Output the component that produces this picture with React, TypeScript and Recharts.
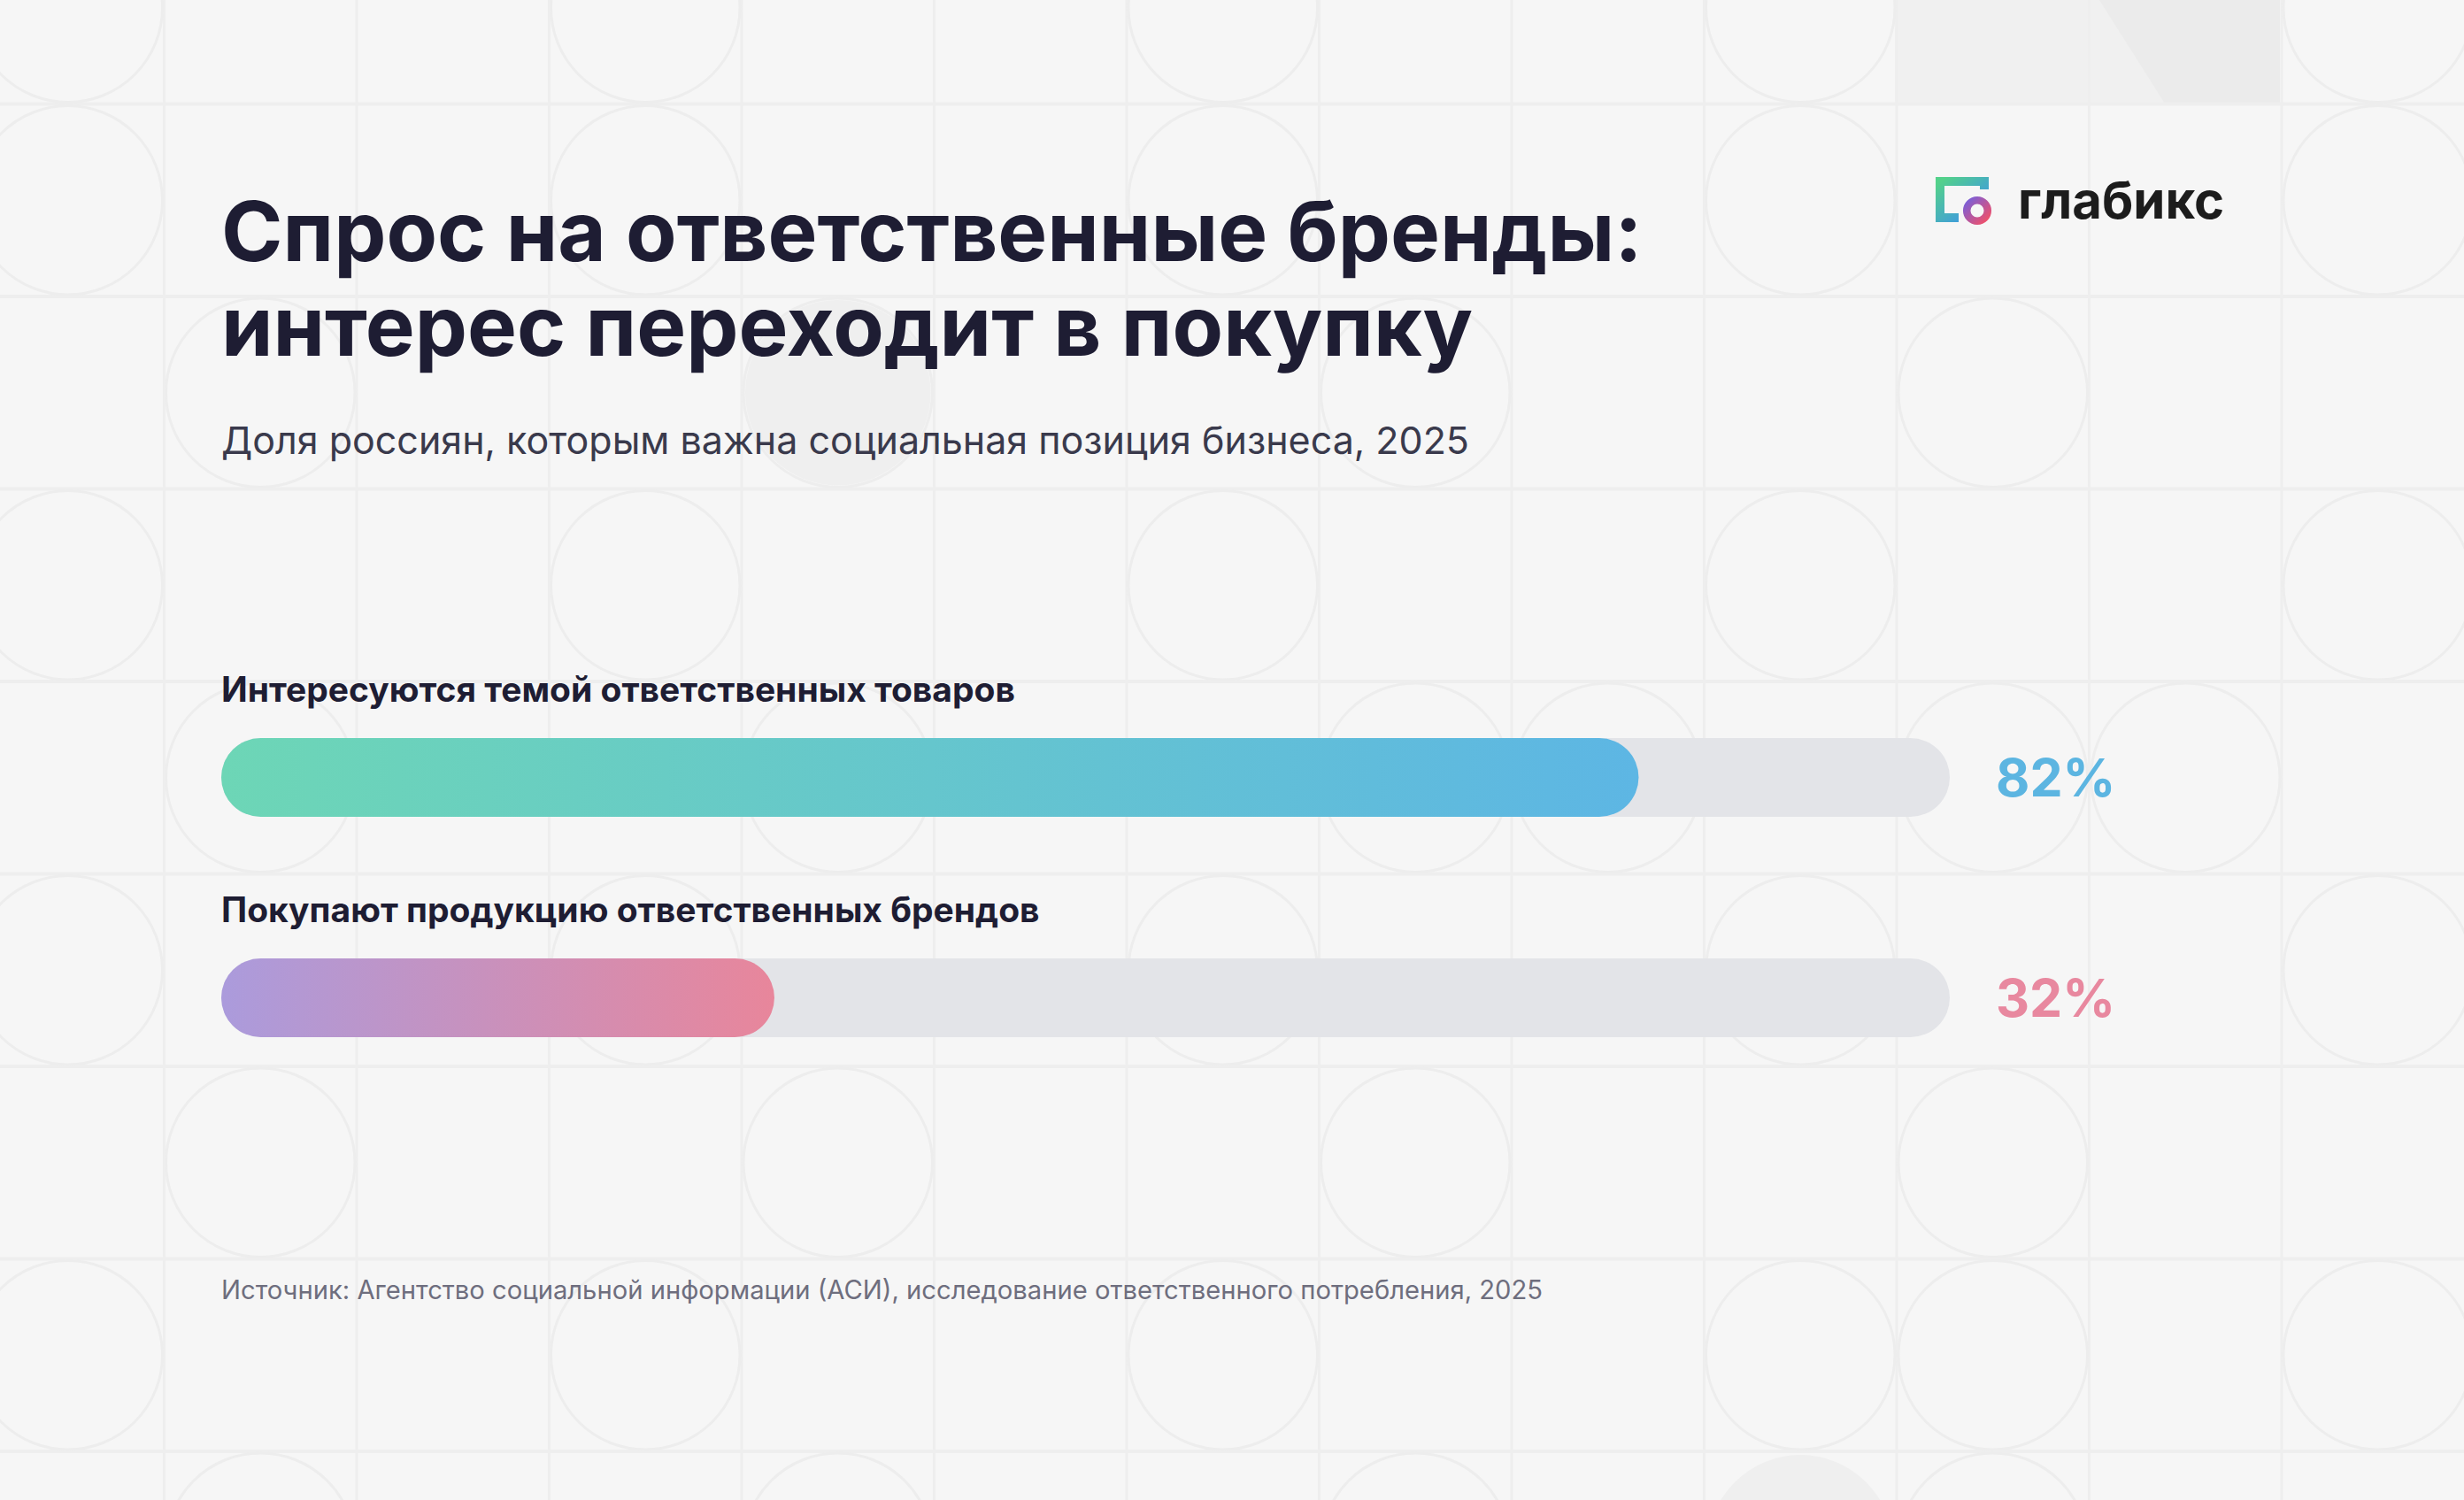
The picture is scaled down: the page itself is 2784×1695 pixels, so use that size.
import React from 'react';
import { BarChart, Bar, XAxis, YAxis, Cell, LabelList } from 'recharts';

// ---- data ----
const categories = [
  'Интересуются темой ответственных товаров',
  'Покупают продукцию ответственных брендов',
];
const shares = [82, 32];

// ---- palette ----
const barGradients = [
  ['#6dd6b6', '#5db6e4'],
  ['#ab9bdc', '#e8869b'],
];
const valueColors = ['#5cb5e1', '#e8889f'];
const TRACK = '#e3e4e8';
const INK = '#1e1d33';

const W = 2784;
const H = 1695;
const CELL = 217.5;
const COL0 = -32;
const ROW0 = -100;

// decorative circles in the background tiling: [col, row]
const bgCircles: [number, number][] = [];
[0, 1, 3, 5, 7].forEach((r) => [0, 3, 6, 9, 12].forEach((c) => bgCircles.push([c, r])));
[2, 4, 6, 8].forEach((r) => [1, 4, 7, 10].forEach((c) => bgCircles.push([c, r])));
bgCircles.push([8, 4], [11, 4], [10, 7]);
const bgDiscs: [number, number][] = [[4, 2], [9, 8]];

const data = categories.map((name, i) => ({ name, share: shares[i] }));

const box = (p: any) => {
  const vb = p.viewBox || {};
  return {
    x: p.x ?? vb.x,
    y: p.y ?? vb.y,
    width: p.width ?? vb.width,
    height: p.height ?? vb.height,
  };
};

const NameLabel = (props: any) => {
  const { x, y } = box(props);
  return (
    <text x={x} y={y - 41} fontSize={39} fontWeight={700} fill={INK} fontFamily="Inter">
      {props.value}
    </text>
  );
};

const ValueLabel = (props: any) => {
  const { x, y, width, height } = box(props);
  const v = Number(props.value);
  const i = shares.indexOf(v);
  const trackEnd = x + (width * 100) / v;
  return (
    <text
      x={trackEnd + 52}
      y={y + height / 2}
      dy="0.36em"
      fontSize={59}
      fontWeight={700}
      fill={valueColors[i]}
      fontFamily="Inter"
    >
      {`${v}%`}
    </text>
  );
};

const Backdrop = () => {
  const vLines = [];
  for (let k = 1; k <= 13; k++) vLines.push(COL0 + k * CELL);
  const hLines = [];
  for (let k = 1; k <= 8; k++) hLines.push(ROW0 + k * CELL);
  return (
    <svg width={W} height={H} style={{ position: 'absolute', left: 0, top: 0 }}>
      <rect width={W} height={H} fill="#f6f6f6" />
      <rect x={2141} y={0} width={435} height={117} fill="#ebebeb" />
      <polygon points="2141,0 2372,0 2446,117 2141,117" fill="#f0f0f0" />
      {bgDiscs.map(([c, r], i) => (
        <circle key={'d' + i} cx={COL0 + (c + 0.5) * CELL} cy={ROW0 + (r + 0.5) * CELL} r={CELL / 2 - 4} fill="#efefef" />
      ))}
      {vLines.map((x, i) => (
        <line key={'v' + i} x1={x} x2={x} y1={0} y2={H} stroke="#eeeeee" strokeWidth={3} />
      ))}
      {hLines.map((y, i) => (
        <line key={'h' + i} x1={0} x2={W} y1={y} y2={y} stroke="#eeeeee" strokeWidth={4} />
      ))}
      {bgCircles.map(([c, r], i) => (
        <circle
          key={'c' + i}
          cx={COL0 + (c + 0.5) * CELL}
          cy={ROW0 + (r + 0.5) * CELL}
          r={CELL / 2 - 2}
          fill="none"
          stroke="#ededed"
          strokeWidth={3}
        />
      ))}

      <g fontFamily="Inter" fill={INK}>
        <text x={250} y={295} fontSize={94} fontWeight={700}>
          Спрос на ответственные бренды:
        </text>
        <text x={250} y={402} fontSize={94} fontWeight={700}>
          интерес переходит в покупку
        </text>
        <text x={250} y={513} fontSize={43} fill="#3a3a4c">
          Доля россиян, которым важна социальная позиция бизнеса, 2025
        </text>
        <text x={250} y={1468} fontSize={29.2} fill="#6e6e7e">
          Источник: Агентство социальной информации (АСИ), исследование ответственного потребления, 2025
        </text>
      </g>

      {/* logo */}
      <defs>
        <linearGradient id="logoSq" x1="0" y1="0" x2="1" y2="1">
          <stop offset="0" stopColor="#53d18a" />
          <stop offset="1" stopColor="#3b8ff0" />
        </linearGradient>
        <linearGradient id="logoRing" x1="0" y1="0" x2="1" y2="1">
          <stop offset="0" stopColor="#7a5fd8" />
          <stop offset="1" stopColor="#f0506a" />
        </linearGradient>
      </defs>
      <path d="M2213 246 H2192 V205 H2242 V214" stroke="url(#logoSq)" strokeWidth={10} fill="none" />
      <circle cx={2234} cy={238} r={11.8} stroke="url(#logoRing)" strokeWidth={8.5} fill="none" />
      <text x={2280} y={247} fontFamily="Inter" fontSize={58} fontWeight={700} fill="#1c1c1c">
        глабикс
      </text>
    </svg>
  );
};

export default function App() {
  return (
    <div style={{ position: 'absolute', left: 0, top: 0, width: W, height: H, overflow: 'hidden' }}>
      <Backdrop />
      <div style={{ position: 'absolute', left: 0, top: 0 }}>
        <BarChart
          width={W}
          height={H}
          data={data}
          layout="vertical"
          barSize={89}
          margin={{ top: 754, right: 581, bottom: 443, left: 250 }}
        >
          <defs>
            {barGradients.map(([a, b], i) => (
              <linearGradient key={i} id={`barGrad${i}`} x1="0" y1="0" x2="1" y2="0">
                <stop offset="0" stopColor={a} />
                <stop offset="1" stopColor={b} />
              </linearGradient>
            ))}
          </defs>
          <XAxis type="number" domain={[0, 100]} hide />
          <YAxis type="category" dataKey="name" hide width={0} />
          <Bar
            dataKey="share"
            radius={44.5}
            background={{ fill: TRACK, radius: 44.5 }}
            isAnimationActive={false}
          >
            {data.map((_, i) => (
              <Cell key={i} fill={`url(#barGrad${i})`} />
            ))}
            <LabelList dataKey="name" content={NameLabel} />
            <LabelList dataKey="share" content={ValueLabel} />
          </Bar>
        </BarChart>
      </div>
    </div>
  );
}
